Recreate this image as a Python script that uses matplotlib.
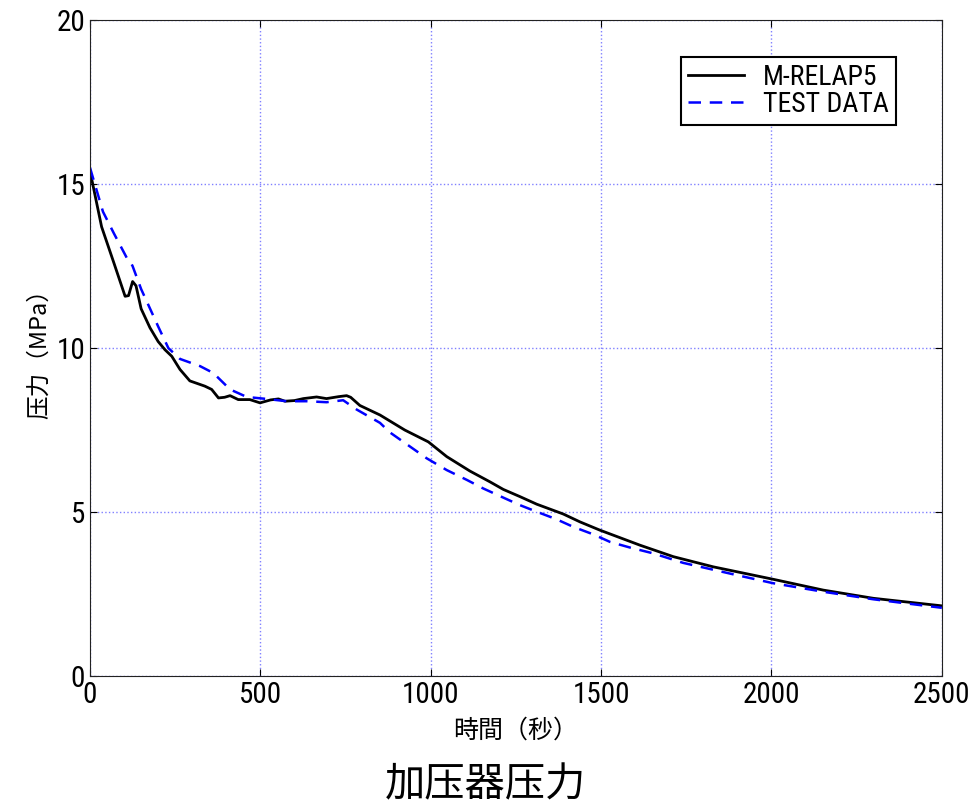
import numpy as np
import matplotlib.pyplot as plt

# M-RELAP5 calculation
t_calc = [0, 34, 70, 103, 113, 125, 135, 150, 176, 200, 220, 240, 264, 293,
          337, 357, 377, 395, 411, 435, 469, 499, 530, 553, 572, 600, 626, 665,
          694, 730, 753, 765, 792, 851, 924, 993, 1047, 1115, 1174, 1213, 1262,
          1311, 1389, 1438, 1496, 1614, 1712, 1829, 2005, 2152, 2299, 2500]
p_calc = [15.4, 13.7, 12.6, 11.58, 11.6, 12.03, 11.9, 11.2, 10.62, 10.2,
          9.95, 9.75, 9.35, 9.0, 8.84, 8.74, 8.48, 8.5, 8.55, 8.43, 8.43, 8.33,
          8.42, 8.45, 8.38, 8.4, 8.46, 8.51, 8.46, 8.52, 8.55, 8.5, 8.25, 7.96,
          7.5, 7.14, 6.69, 6.25, 5.92, 5.69, 5.47, 5.24, 4.94, 4.70, 4.45, 3.99,
          3.64, 3.33, 2.95, 2.62, 2.37, 2.14]

# test data
t_test = [0, 38, 70, 108, 115, 125, 150, 200, 230, 264, 323, 362, 411, 460, 518,
          577, 636, 694, 743, 782, 851, 880, 988, 1047, 1106, 1154, 1213, 1262,
          1311, 1369, 1418, 1477, 1526, 1584, 1653, 1741, 1897, 2005, 2152, 2299,
          2500]
p_test = [15.5, 14.16, 13.5, 12.75, 12.7, 12.5, 11.8, 10.66, 10.0, 9.67, 9.45,
          9.24, 8.74, 8.51, 8.45, 8.38, 8.38, 8.35, 8.41, 8.13, 7.72, 7.43, 6.64,
          6.28, 5.98, 5.72, 5.44, 5.21, 5.01, 4.78, 4.55, 4.32, 4.09, 3.92, 3.74,
          3.45, 3.08, 2.83, 2.57, 2.34, 2.08]

num_font = ['Roboto Condensed', 'Liberation Sans']
cjk_font = ['Noto Sans CJK SC', 'DejaVu Sans']

fig = plt.figure(figsize=(9.71, 8.07), dpi=100)
ax = fig.add_axes([0.0927, 0.1623, 0.8773, 0.8127])

ax.plot(t_calc, p_calc, color='black', lw=2.0, label='M-RELAP5')
ax.plot(t_test, p_test, color='blue', lw=1.8, ls=(0, (5, 3.5)), label='TEST DATA')

ax.set_xlim(0, 2500)
ax.set_ylim(0, 20)
ax.set_xticks(np.arange(0, 2501, 500))
ax.set_yticks(np.arange(0, 21, 5))
ax.grid(True, color='#8080ff', ls=':', lw=1.0)
ax.tick_params(direction='in', length=5, top=True, right=True, labelsize=21)
for lab in ax.get_xticklabels() + ax.get_yticklabels():
    lab.set_family(num_font)
for s in ax.spines.values():
    s.set_color('#222222')

ax.set_xlabel('時間（秒）', family=cjk_font, fontsize=18, labelpad=6)
ax.set_ylabel('压力（MPa）', family=cjk_font, fontsize=17, labelpad=4)

leg = ax.legend(loc='upper right', bbox_to_anchor=(0.946, 0.944), borderaxespad=0,
                fancybox=False, edgecolor='black', framealpha=1, handlelength=2.0,
                handletextpad=0.7, borderpad=0.25, labelspacing=0.0,
                prop={'family': num_font, 'size': 20})
leg.get_frame().set_linewidth(1.5)

fig.text(0.5, 0.027, '加压器压力', family=cjk_font, fontsize=29, ha='center', va='center')

fig.savefig('out.png', dpi=100)
